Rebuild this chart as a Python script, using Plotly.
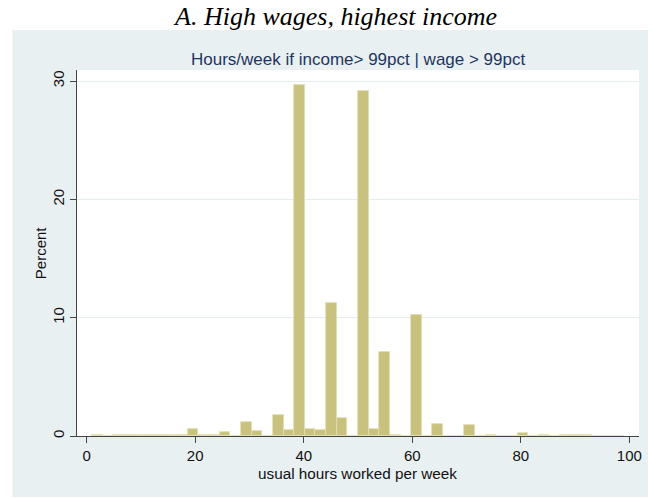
"""Stata-style histogram: hours worked per week for top earners."""

import plotly.graph_objects as go

# Histogram bins (hours) and bar heights (percent)
bin_start = 1.0
bin_width = 1.96
percent = [
    0.05, 0.03, 0.05, 0.07, 0.05, 0.12, 0.05, 0.10, 0.05, 0.55,
    0.05, 0.12, 0.37, 0.00, 1.22, 0.42, 0.00, 1.80, 0.50, 29.70,
    0.60, 0.50, 11.25, 1.55, 0.00, 29.15, 0.55, 7.10, 0.10, 0.00,
    10.20, 0.00, 1.00, 0.00, 0.00, 0.92, 0.00, 0.05, 0.03, 0.03,
    0.23, 0.00, 0.05, 0.00, 0.05, 0.05, 0.05, 0.00, 0.04, 0.04,
]
x_ticks = [0, 20, 40, 60, 80, 100]
y_ticks = [0, 10, 20, 30]

fig_title = "<i>A. High wages, highest income</i>"
sub_title = "Hours/week if income> 99pct | wage > 99pct"
x_title = "usual hours worked per week"
y_title = "Percent"

bin_centers = [bin_start + bin_width * (i + 0.5) for i in range(len(percent))]

# Pixel geometry of the 653x498 canvas
W, H = 653, 498
PL, PR, PT, PB = 77, 642, 70, 436


def px(x):
    return (x - PL) / (PR - PL)


def py(y):
    return (PB - y) / (PB - PT)


PANEL = "#E9F0F2"
BAR = "#C9C27F"
NAVY = "#1F3560"
SANS = "Liberation Sans, Arial, sans-serif"

fig = go.Figure()
fig.add_trace(
    go.Bar(
        x=bin_centers,
        y=percent,
        width=bin_width,
        marker=dict(color=BAR, line=dict(color="#E2DEB4", width=0.8)),
        hoverinfo="x+y",
    )
)

# Stata graph region (bluish panel) and white plot region
fig.add_shape(
    type="rect", xref="paper", yref="paper",
    x0=px(12), x1=px(651), y0=py(497), y1=py(30),
    fillcolor=PANEL, line=dict(width=0), layer="below",
)
fig.add_shape(
    type="rect", xref="paper", yref="paper",
    x0=0, x1=1, y0=0, y1=1,
    fillcolor="white", line=dict(width=0), layer="below",
)

fig.add_annotation(
    text=fig_title, xref="paper", yref="paper", x=px(336), y=py(17),
    showarrow=False, xanchor="center", yanchor="middle",
    font=dict(family="Liberation Serif, Times New Roman, serif", size=26, color="black"),
)
fig.add_annotation(
    text=sub_title, xref="paper", yref="paper", x=0.5, y=py(60),
    showarrow=False, xanchor="center", yanchor="middle",
    font=dict(family=SANS, size=17, color=NAVY),
)
fig.add_annotation(
    text=x_title, xref="paper", yref="paper", x=px(359), y=py(473),
    showarrow=False, xanchor="center", yanchor="middle",
    font=dict(family=SANS, size=15.3, color="#111111"),
)
fig.add_annotation(
    text=y_title, xref="paper", yref="paper", x=px(40), y=py(253),
    showarrow=False, xanchor="center", yanchor="middle", textangle=-90,
    font=dict(family=SANS, size=15, color="#111111"),
)

fig.update_xaxes(
    range=[-1.78, 101.78],
    tickvals=x_ticks,
    ticks="outside", ticklen=6, tickwidth=1, tickcolor="#444444",
    showline=True, linecolor="#444444", linewidth=1,
    showgrid=False, zeroline=False,
    tickfont=dict(family=SANS, size=15, color="#111111"),
)
fig.update_yaxes(
    range=[0, 30.94],
    tickvals=y_ticks,
    tickangle=-90,
    ticks="outside", ticklen=6, tickwidth=1, tickcolor="#444444",
    showline=True, linecolor="#444444", linewidth=1,
    showgrid=True, gridcolor="#E4ECEF", gridwidth=1, zeroline=False,
    tickfont=dict(family=SANS, size=15, color="#111111"),
)

fig.update_layout(
    width=W,
    height=H,
    margin=dict(l=PL, r=W - PR, t=PT, b=H - PB),
    paper_bgcolor="white",
    plot_bgcolor="white",
    bargap=0,
    showlegend=False,
)

# drop the browser's default 8px body margin so the canvas sits at (0, 0)
fig.write_html(
    "out.html",
    config={"displayModeBar": False},
    post_script="document.body.style.margin = '0';",
)
